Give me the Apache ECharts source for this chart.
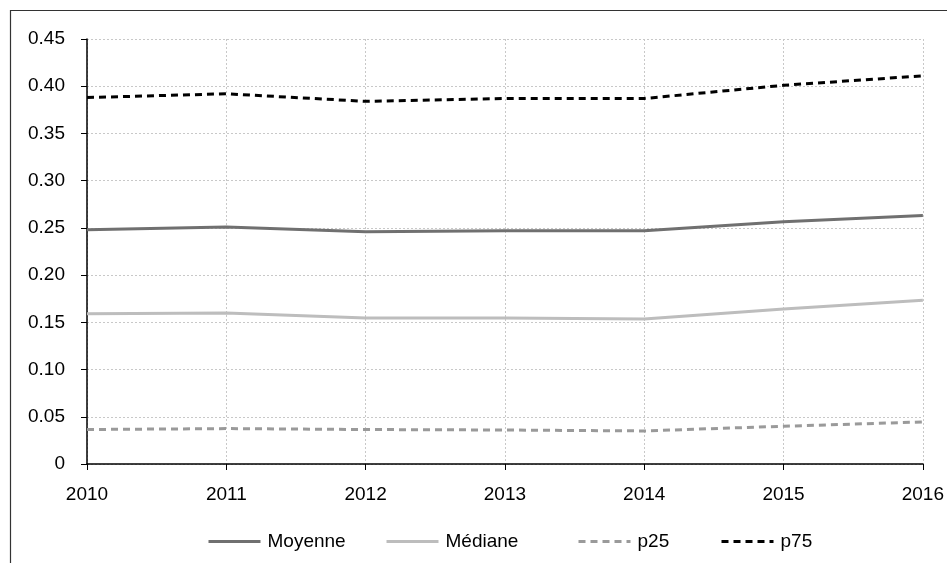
<!DOCTYPE html>
<html>
<head>
<meta charset="utf-8">
<script src="https://cdn.jsdelivr.net/npm/echarts@6/dist/echarts.min.js"></script>
<style>
  html, body { margin: 0; padding: 0; background: #fff; }
  #chart { width: 947px; height: 563px; }
</style>
</head>
<body>
<div id="chart"></div>
<script>
// values
var years = ['2010', '2011', '2012', '2013', '2014', '2015', '2016'];
var moyenne = [0.248, 0.251, 0.246, 0.247, 0.247, 0.2565, 0.263];
var mediane = [0.159, 0.160, 0.1545, 0.1545, 0.1535, 0.164, 0.1735];
var p25 = [0.0365, 0.0375, 0.0365, 0.036, 0.035, 0.040, 0.0445];
var p75 = [0.388, 0.392, 0.384, 0.387, 0.387, 0.401, 0.411];

var font = 'Liberation Sans, Arial, sans-serif';

function serie(name, data, color, type) {
    return {
        name: name,
        type: 'line',
        data: data,
        symbol: 'none',
        smooth: false,
        lineStyle: { color: color, width: 3, type: type },
        itemStyle: { color: color },
        emphasis: { disabled: true }
    };
}

// one legend per item so each sits where it does in the picture
function leg(name, left) {
    return {
        data: [name],
        left: left,
        top: 532,
        padding: 0,
        itemWidth: 52,
        itemHeight: 14,
        itemStyle: { color: 'transparent', borderColor: 'transparent', opacity: 0 },
        lineStyle: { width: 3 },
        textStyle: { fontFamily: font, fontSize: 19, color: '#000', padding: [0, 0, 0, 2] },
        selectedMode: false
    };
}

var option = {
    animation: false,
    backgroundColor: '#fff',
    graphic: [{
        type: 'rect',
        shape: { x: 10.5, y: 10.5, width: 1000, height: 1000 },
        style: { fill: 'none', stroke: '#333', lineWidth: 1.2 },
        silent: true
    }],
    grid: { left: 87, right: 23, top: 39, bottom: 99, containLabel: false },
    legend: [
        leg('Moyenne', 207),
        leg('Médiane', 385),
        leg('p25', 577),
        leg('p75', 720)
    ],
    xAxis: {
        type: 'category',
        data: years,
        boundaryGap: false,
        axisLine: { lineStyle: { color: '#000', width: 1.5 } },
        axisTick: { show: true, length: 6, lineStyle: { color: '#000' } },
        axisLabel: { fontFamily: font, fontSize: 19, color: '#000', margin: 21 },
        splitLine: { show: true, lineStyle: { color: '#c8c8c8', type: [2, 2], width: 1 } }
    },
    yAxis: {
        type: 'value',
        min: 0,
        max: 0.45,
        interval: 0.05,
        axisLine: { show: true, lineStyle: { color: '#000', width: 1.5 } },
        axisTick: { show: true, length: 6, lineStyle: { color: '#000' } },
        axisLabel: {
            fontFamily: font, fontSize: 19, color: '#000', margin: 22,
            formatter: function (v) { return v === 0 ? '0' : v.toFixed(2); }
        },
        splitLine: { show: true, lineStyle: { color: '#c8c8c8', type: [2, 2], width: 1 } }
    },
    series: [
        serie('Moyenne', moyenne, '#707070', 'solid'),
        serie('Médiane', mediane, '#bdbdbd', 'solid'),
        serie('p25', p25, '#9a9a9a', [7, 5]),
        serie('p75', p75, '#000000', [7, 5])
    ]
};

echarts.init(document.getElementById('chart')).setOption(option);
</script>
</body>
</html>
